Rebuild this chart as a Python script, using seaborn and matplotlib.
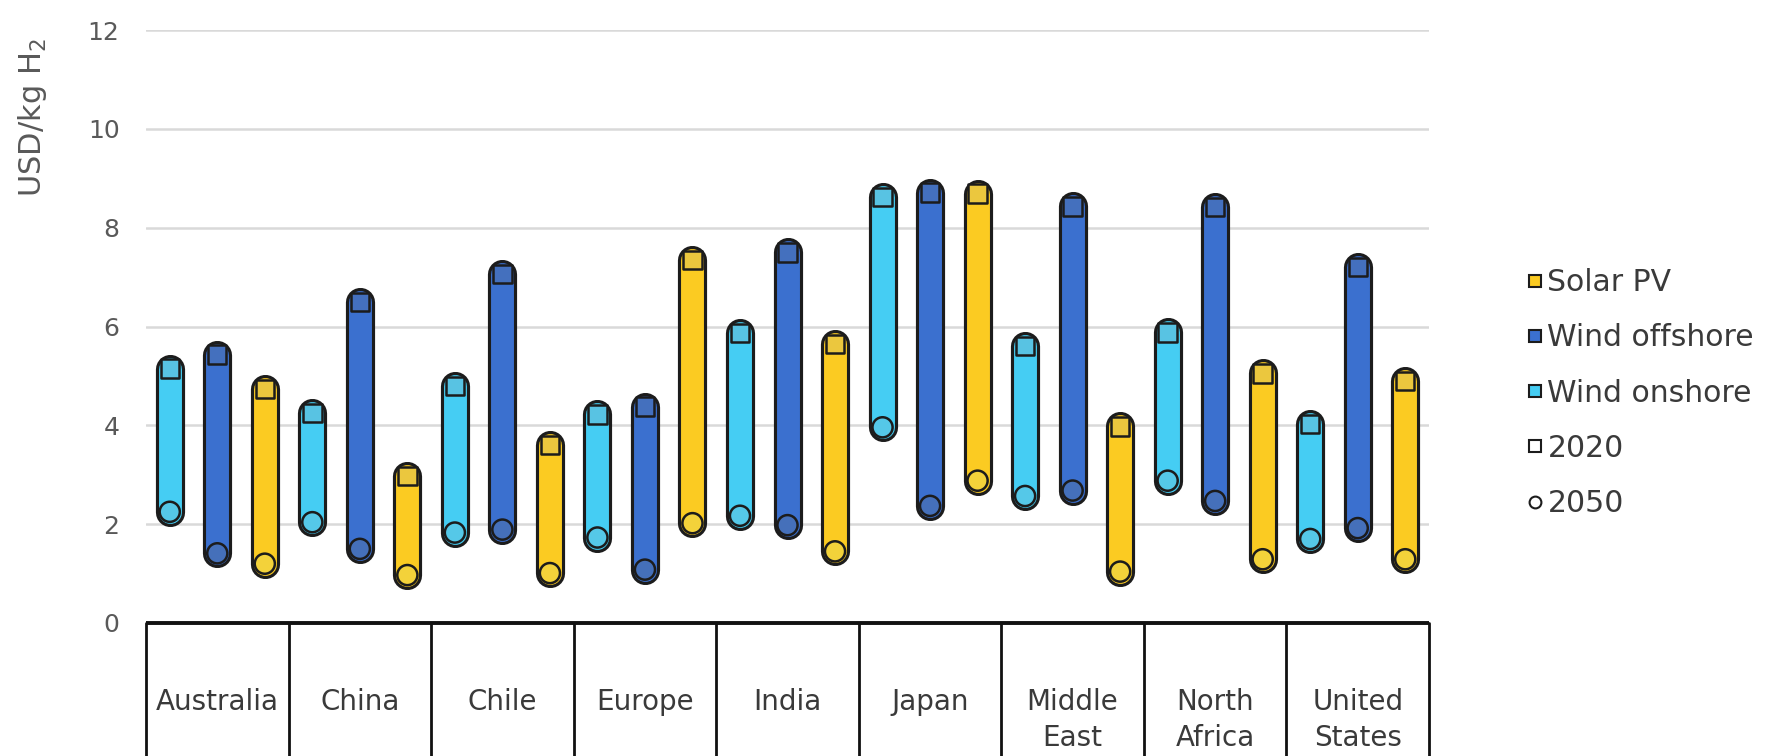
import numpy as np
import pandas as pd
import matplotlib
matplotlib.use("Agg")
import matplotlib.pyplot as plt
from matplotlib.lines import Line2D
import seaborn as sns

# ---------------- data ----------------
regions = ["Australia", "China", "Chile", "Europe", "India", "Japan",
           "Middle\nEast", "North\nAfrica", "United\nStates"]
techs = ["Wind onshore", "Wind offshore", "Solar PV"]
onshore_2020 = [5.15, 4.25, 4.80, 4.22, 5.87, 8.62, 5.60, 5.88, 4.03]
onshore_2050 = [2.25, 2.04, 1.83, 1.73, 2.17, 3.96, 2.57, 2.88, 1.70]
offshore_2020 = [5.43, 6.50, 7.06, 4.38, 7.50, 8.71, 8.43, 8.42, 7.20]
offshore_2050 = [1.41, 1.50, 1.89, 1.08, 1.98, 2.37, 2.68, 2.47, 1.92]
solar_2020 = [4.73, 2.98, 3.60, 7.35, 5.65, 8.69, 3.98, 5.05, 4.90]
solar_2050 = [1.20, 0.97, 1.01, 2.02, 1.45, 2.88, 1.04, 1.29, 1.29]
yticks = [0, 2, 4, 6, 8, 10, 12]
ylabel = "USD/kg H$_2$"

# ---------------- build table ----------------
values = {
    ("Wind onshore", 2020): onshore_2020, ("Wind onshore", 2050): onshore_2050,
    ("Wind offshore", 2020): offshore_2020, ("Wind offshore", 2050): offshore_2050,
    ("Solar PV", 2020): solar_2020, ("Solar PV", 2050): solar_2050,
}
offset = {"Wind onshore": -1/3, "Wind offshore": 0.0, "Solar PV": 1/3}
rows = []
for (tech, year), vals in values.items():
    for i, r in enumerate(regions):
        rows.append(dict(region=r, tech=tech, year=year, value=vals[i],
                         x=i + offset[tech], uid=f"{r}-{tech}"))
df = pd.DataFrame(rows)

bar_col = {"Wind onshore": "#45CDF3", "Wind offshore": "#3B70CF", "Solar PV": "#FBCB22"}
sq_col = {"Wind onshore": "#58C3E3", "Wind offshore": "#4470BE", "Solar PV": "#EBC73E"}
ci_col = {"Wind onshore": "#55C8E8", "Wind offshore": "#4570BA", "Solar PV": "#F3D23A"}
edge = "#1c1c1c"

# ---------------- figure ----------------
sns.set_theme(style="white")
plt.rcParams["font.family"] = ["DejaVu Sans"]
fig = plt.figure(figsize=(17.81, 7.56), dpi=100)
ax = fig.add_axes([146/1781, (756-623)/756, (1429-146)/1781, (623-30)/756])

# grid
for y in yticks[1:]:
    ax.axhline(y, color="#d9d9d9", lw=1.8, zorder=0)

# cylinders: outline then fill
sns.lineplot(data=df, x="x", y="value", units="uid", estimator=None, sort=False,
             hue="tech", palette={t: edge for t in techs}, legend=False,
             lw=21.0, solid_capstyle="round", ax=ax, zorder=2)
sns.lineplot(data=df, x="x", y="value", units="uid", estimator=None, sort=False,
             hue="tech", palette=bar_col, legend=False,
             lw=16.5, solid_capstyle="round", ax=ax, zorder=3)
# 2020 squares, 2050 circles
sns.scatterplot(data=df[df.year == 2020], x="x", y="value", hue="tech",
                palette=sq_col, marker="s", s=175, edgecolor=edge, linewidth=1.8,
                legend=False, ax=ax, zorder=4)
sns.scatterplot(data=df[df.year == 2050], x="x", y="value", hue="tech",
                palette=ci_col, marker="o", s=210, edgecolor=edge, linewidth=1.8,
                legend=False, ax=ax, zorder=4)

ax.set_xlim(-0.5, len(regions) - 0.5)
ax.set_ylim(0, 12)
ax.set_xticks([])
ax.set_yticks(yticks)
ax.set_yticklabels([str(t) for t in yticks], fontsize=18, color="#595959")
ax.tick_params(axis="y", length=0, pad=19)
for s in ax.spines.values():
    s.set_visible(False)
ax.set_xlabel("")
ax.set_ylabel(ylabel, fontsize=22, color="#595959")
ax.yaxis.set_label_coords(-0.0755, 0.853)

# category boxes under the axis
ax.plot([-0.5, len(regions) - 0.5], [0, 0], color="#111111", lw=2.8,
        clip_on=False, zorder=5, solid_capstyle="butt")
for k in range(len(regions) + 1):
    ax.plot([k - 0.5, k - 0.5], [0, -4], color="#111111", lw=2.0,
            clip_on=False, zorder=5)
for i, r in enumerate(regions):
    ax.text(i, -1.32, r, ha="center", va="top", fontsize=20, color="#3a3a3a",
            linespacing=1.35, clip_on=False)

# legend
handles = [
    Line2D([], [], ls="", marker="s", ms=8.5, mfc=bar_col["Solar PV"], mec=edge, mew=1.5),
    Line2D([], [], ls="", marker="s", ms=8.5, mfc=bar_col["Wind offshore"], mec=edge, mew=1.5),
    Line2D([], [], ls="", marker="s", ms=8.5, mfc=bar_col["Wind onshore"], mec=edge, mew=1.5),
    Line2D([], [], ls="", marker="s", ms=8.5, mfc="white", mec=edge, mew=1.5),
    Line2D([], [], ls="", marker="o", ms=8.5, mfc="white", mec=edge, mew=1.5),
]
labels = ["Solar PV", "Wind offshore", "Wind onshore", "2020", "2050"]
fig.legend(handles, labels, loc="upper left", bbox_to_anchor=(1528/1781, (756-268)/756),
           frameon=False, fontsize=21.5, handlelength=0.5, handletextpad=0.15,
           labelspacing=0.88, borderpad=0, borderaxespad=0, labelcolor="#3a3a3a")

fig.savefig("out.png", dpi=100, facecolor="white")
